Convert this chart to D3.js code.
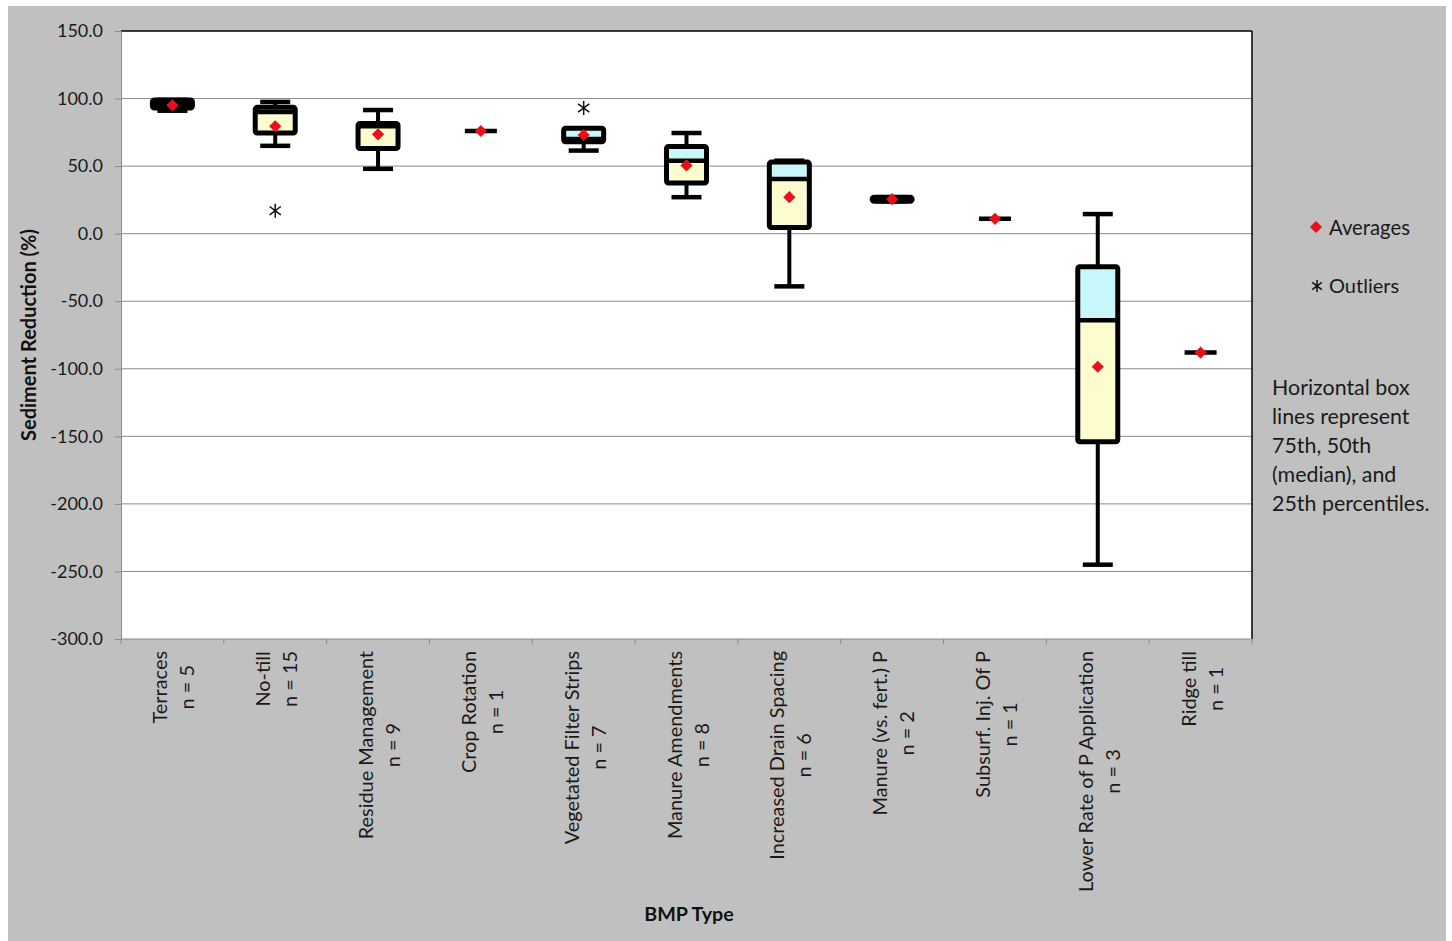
<!DOCTYPE html>
<html>
<head>
<meta charset="utf-8">
<script src="https://cdn.jsdelivr.net/npm/d3@7"></script>
<style>
  html, body { margin: 0; padding: 0; background: #ffffff; }
  svg { display: block; }
  text { font-family: Lato, "Open Sans", "Liberation Sans", sans-serif; }
</style>
</head>
<body>
<svg id="chart" width="1452" height="941"></svg>
<script>
// BMP types and sample counts
const categories = ["Terraces", "No-till", "Residue Management", "Crop Rotation",
  "Vegetated Filter Strips", "Manure Amendments", "Increased Drain Spacing",
  "Manure (vs. fert.) P", "Subsurf. Inj. Of P", "Lower Rate of P Application", "Ridge till"];
const counts = [5, 15, 9, 1, 7, 8, 6, 2, 1, 3, 1];

// Box statistics (% sediment reduction); null where only one study exists
const whiskerLow  = [91,   65,   48,   null, 61.5, 27,   -39,  24,   null, -245,  null];
const quartile1   = [93,   74.5, 63,   null, 68,   37.5, 4.5,  24,   null, -154,  null];
const medians     = [96,   90,   79.5, null, 70,   54,   40.5, 25.5, null, -64,   null];
const quartile3   = [99,   93.5, 81.5, null, 78,   64.5, 53,   27,   null, -24.5, null];
const whiskerHigh = [99,   97.5, 91.5, null, 78,   74.5, 54,   27,   null, 14.5,  null];
const averages    = [95,   79.5, 73.5, 76,   73,   50.5, 27,   25.5, 11,   -98.5, -88];

// Outlying studies
const outlierCats   = ["No-till", "Vegetated Filter Strips"];
const outlierValues = [17, 93];

// Axis ticks
const yTicks = [150, 100, 50, 0, -50, -100, -150, -200, -250, -300];

const noteLines = ["Horizontal box", "lines represent", "75th, 50th", "(median), and", "25th percentiles."];

const svg = d3.select("#chart");

// chart background
svg.append("rect").attr("x", 8).attr("y", 6).attr("width", 1438).attr("height", 935)
  .attr("fill", "#c0c0c0");

const plot = { left: 121, right: 1252, top: 31, bottom: 639 };

svg.append("rect").attr("x", plot.left).attr("y", plot.top)
  .attr("width", plot.right - plot.left).attr("height", plot.bottom - plot.top)
  .attr("fill", "#ffffff");

const x = d3.scaleBand().domain(categories).range([plot.left, plot.right]);
const y = d3.scaleLinear().domain([-300, 150]).range([plot.bottom, plot.top]);

// horizontal gridlines
svg.append("g").selectAll("line").data(yTicks.filter(t => t !== 150 && t !== -300)).join("line")
  .attr("x1", plot.left).attr("x2", plot.right)
  .attr("y1", d => y(d)).attr("y2", d => y(d))
  .attr("stroke", "#8a8a8a").attr("stroke-width", 1);

// frame: dark top and right edges
svg.append("line").attr("x1", plot.left).attr("x2", plot.right)
  .attr("y1", plot.top).attr("y2", plot.top).attr("stroke", "#000").attr("stroke-width", 1.5);
svg.append("line").attr("x1", plot.right).attr("x2", plot.right)
  .attr("y1", plot.top).attr("y2", plot.bottom).attr("stroke", "#000").attr("stroke-width", 1.5);

// y axis, one decimal with a plain hyphen for negatives
const fmt = v => v.toFixed(1);
const yAxis = svg.append("g").attr("transform", `translate(${plot.left},0)`)
  .call(d3.axisLeft(y).tickValues(yTicks).tickFormat(fmt).tickSize(6).tickPadding(12));
yAxis.select(".domain").attr("stroke", "#8a8a8a");
yAxis.selectAll(".tick line").attr("stroke", "#8a8a8a");
yAxis.selectAll(".tick text").attr("font-size", 18).attr("fill", "#1a1a1a")
  .style("font-family", "Lato, sans-serif");

// x axis line and ticks at band edges
const xAxis = svg.append("g").attr("transform", `translate(0,${plot.bottom})`);
xAxis.append("line").attr("x1", plot.left).attr("x2", plot.right).attr("stroke", "#8a8a8a");
const edges = categories.map(c => x(c)).concat([plot.right]);
xAxis.selectAll("line.tk").data(edges).join("line").attr("class", "tk")
  .attr("x1", d => d).attr("x2", d => d).attr("y1", 0).attr("y2", 5)
  .attr("stroke", "#8a8a8a");

// category labels, rotated, two centred lines each
const labelTop = 651;
categories.forEach((c, i) => {
  const cx = x(c) + x.bandwidth() / 2;
  const lines = [c, "n = " + counts[i]];
  const g = svg.append("g");
  const texts = lines.map((t, j) => g.append("text").text(t)
    .attr("font-size", 19.9).attr("fill", "#1a1a1a").attr("text-anchor", "middle")
    .attr("dominant-baseline", "central"));
  const w = d3.max(texts, t => t.node().getComputedTextLength());
  texts.forEach((t, j) => {
    const off = j === 0 ? -13 : 14;
    t.attr("transform", `translate(${cx + off},${labelTop + w / 2}) rotate(-90)`);
  });
});

// axis titles
svg.append("text").text("Sediment Reduction (%)")
  .attr("transform", `translate(28,${(plot.top + plot.bottom) / 2}) rotate(-90)`)
  .attr("text-anchor", "middle").attr("dominant-baseline", "central")
  .attr("font-size", 20).attr("font-weight", "bold").attr("fill", "#111");
svg.append("text").text("BMP Type")
  .attr("x", 689).attr("y", 913).attr("text-anchor", "middle").attr("dominant-baseline", "central")
  .attr("font-size", 19.7).attr("font-weight", "bold").attr("fill", "#111");

// boxes
const boxW = 40, capW = 30;
const marks = svg.append("g");
categories.forEach((c, i) => {
  const cx = x(c) + x.bandwidth() / 2;
  if (quartile1[i] === null) {
    // single study: short bar at its value
    marks.append("line").attr("x1", cx - capW / 2 - 1).attr("x2", cx + capW / 2 + 1)
      .attr("y1", y(averages[i])).attr("y2", y(averages[i]))
      .attr("stroke", "#000").attr("stroke-width", 4.5);
    return;
  }
  // whiskers
  marks.append("line").attr("x1", cx).attr("x2", cx)
    .attr("y1", y(whiskerHigh[i])).attr("y2", y(whiskerLow[i]))
    .attr("stroke", "#000").attr("stroke-width", 4);
  [whiskerHigh[i], whiskerLow[i]].forEach(v => {
    marks.append("line").attr("x1", cx - capW / 2).attr("x2", cx + capW / 2)
      .attr("y1", y(v)).attr("y2", y(v)).attr("stroke", "#000").attr("stroke-width", 4.5);
  });
  // upper half (median to Q3) and lower half (Q1 to median)
  marks.append("rect").attr("x", cx - boxW / 2).attr("width", boxW)
    .attr("y", y(quartile3[i])).attr("height", y(medians[i]) - y(quartile3[i]))
    .attr("fill", "#c8f7fb");
  marks.append("rect").attr("x", cx - boxW / 2).attr("width", boxW)
    .attr("y", y(medians[i])).attr("height", y(quartile1[i]) - y(medians[i]))
    .attr("fill", "#fdfcce");
  marks.append("line").attr("x1", cx - boxW / 2).attr("x2", cx + boxW / 2)
    .attr("y1", y(medians[i])).attr("y2", y(medians[i]))
    .attr("stroke", "#000").attr("stroke-width", 4.5);
  marks.append("rect").attr("x", cx - boxW / 2).attr("width", boxW)
    .attr("y", y(quartile3[i])).attr("height", y(quartile1[i]) - y(quartile3[i]))
    .attr("fill", "none").attr("stroke", "#000").attr("stroke-width", 5)
    .attr("rx", 2);
});

// average markers
const diamond = d3.symbol().type(d3.symbolDiamond2).size(95);
marks.selectAll("path.avg").data(averages).join("path").attr("class", "avg")
  .attr("d", diamond)
  .attr("transform", (d, i) => `translate(${x(categories[i]) + x.bandwidth() / 2},${y(d)})`)
  .attr("fill", "#e8111a");

// outlier asterisks
function star(g, cx, cy, r) {
  g.append("path")
    .attr("d", `M${cx - r * 0.8},${cy - r * 0.6}L${cx + r * 0.8},${cy + r * 0.6}` +
               `M${cx - r * 0.8},${cy + r * 0.6}L${cx + r * 0.8},${cy - r * 0.6}` +
               `M${cx},${cy - r}L${cx},${cy + r}`)
    .attr("stroke", "#111").attr("stroke-width", 1.5).attr("fill", "none");
}
outlierCats.forEach((c, i) => {
  star(marks, x(c) + x.bandwidth() / 2, y(outlierValues[i]), 7);
});

// legend
svg.append("path").attr("d", diamond).attr("transform", "translate(1316,227)").attr("fill", "#e8111a");
svg.append("text").text("Averages").attr("x", 1329).attr("y", 227)
  .attr("dominant-baseline", "central").attr("font-size", 20.3).attr("fill", "#1a1a1a");
star(svg, 1317, 286, 6);
svg.append("text").text("Outliers").attr("x", 1329).attr("y", 285)
  .attr("dominant-baseline", "central").attr("font-size", 20).attr("fill", "#1a1a1a");

// percentile note
svg.append("g").selectAll("text").data(noteLines).join("text")
  .text(d => d).attr("x", 1272).attr("y", (d, i) => 387 + i * 29)
  .attr("dominant-baseline", "central").attr("font-size", 21.4).attr("fill", "#1a1a1a");
</script>
</body>
</html>
